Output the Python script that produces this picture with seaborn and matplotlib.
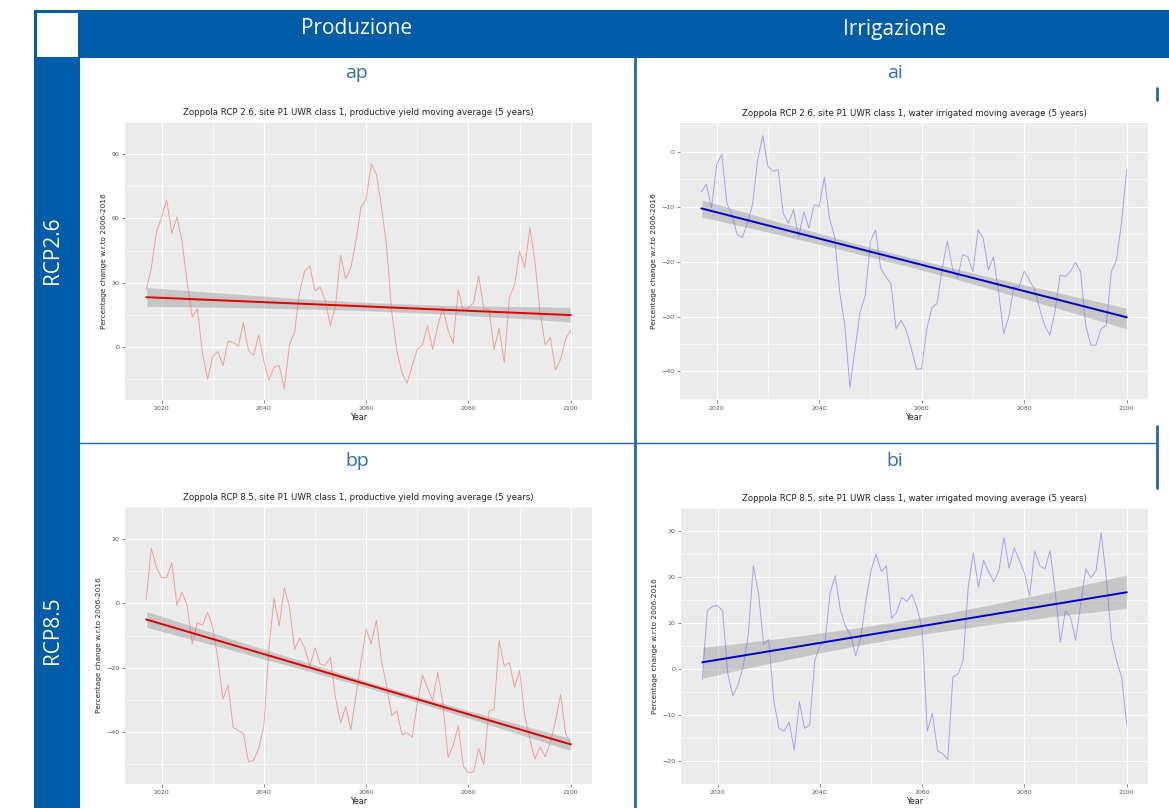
import numpy as np
import matplotlib
matplotlib.use("Agg")
import matplotlib.pyplot as plt
import seaborn as sns
from matplotlib.patches import Rectangle

# years of the 5-year moving average series
years = np.arange(2017, 2101)

# RCP 2.6 - productive yield (% change w.r.to 2006-2016)
ap_vals = [26.7, 37, 53.7, 60.6, 68.6, 53, 60.6, 49.5, 30, 14,
           18, -3, -15, -4.4, -2, -8.6, 2.8, 2.2, 0.4, 11.5,
           -1.7, -3.7, 5.7, -6.5, -15.5, -9.3, -8.6, -19.4, 1.1, 7,
           26, 35.7, 37.8, 26.3, 28, 21.9, 10, 19, 42.9, 31.8,
           37, 49.5, 65.4, 68.9, 85.5, 80.6, 65.4, 46.7, 16.3, -1.7,
           -12, -16.9, -8.6, -1, 1.1, 10, -1, 10, 18.4, 8,
           1.8, 26.7, 17.4, 18.4, 20.7, 33.2, 17.7, 17.7, -1, 8.7,
           -7.2, 23.2, 28.8, 44.7, 37, 55.7, 39.8, 16.3, 1.1, 4.6,
           -10.6, -5.8, 3.9, 8]

# RCP 2.6 - water irrigated
ai_vals = [-7.2, -5.9, -10.2, -2.3, -0.4, -9.3, -11.5, -15, -15.6, -13,
           -9.6, -1.4, 3, -2.6, -3.5, -3.2, -11.2, -13, -10.5, -15.4,
           -10.9, -13.9, -9.6, -9.9, -4.6, -12, -15.4, -25.5, -31.6, -42.9,
           -35.9, -29.1, -26.1, -16.3, -14.2, -21.2, -22.7, -24, -32.2, -30.7,
           -32.5, -35.9, -39.6, -39.5, -32.2, -28.4, -27.6, -21.2, -16.2, -21.2,
           -23, -18.7, -19.1, -21.8, -14.2, -15.7, -21.5, -19.1, -25.5, -33.1,
           -30, -24.6, -24.6, -21.7, -23.4, -24.9, -28.5, -31.6, -33.4, -29.1,
           -22.4, -22.7, -21.8, -20.1, -21.8, -31.6, -35.2, -35.2, -32.2, -31.6,
           -21.8, -19.7, -12.7, -3.2]

# RCP 8.5 - productive yield
bp_vals = [1.2, 17.2, 11.2, 7.9, 8.1, 12.6, -0.5, 3.4, -0.5, -12.6,
           -6, -6.8, -2.8, -7.4, -17.2, -29.8, -25.4, -38.6, -39.5, -40.5,
           -49.3, -48.8, -45.1, -38.1, -13.5, 1.6, -7, 4.9, -0.9, -14.4,
           -10.7, -14, -19.5, -13.8, -18.9, -19.3, -16.7, -29.3, -37.2, -32.1,
           -39.3, -28.8, -18.1, -7.9, -12.6, -5.3, -18.1, -25.6, -34.9, -33.5,
           -40.9, -40.3, -41.6, -31.2, -22.3, -26.3, -30.2, -21.4, -31.2, -47.9,
           -44.2, -38.1, -50.7, -52.7, -52.4, -45.1, -50.2, -33.5, -33, -11.6,
           -19.5, -18.4, -26, -20.9, -34.9, -42.3, -48.4, -44.7, -47.7, -43.3,
           -36.7, -28.4, -40.5, -43.7]

# RCP 8.5 - water irrigated
bi_vals = [-2.4, 12.7, 13.6, 13.8, 12.6, -1.1, -5.8, -3.4, 0.5, 7.4,
           22.4, 16.5, 5.4, 6.4, -7, -12.9, -13.5, -11.6, -17.6, -7.1,
           -12.9, -12.2, 1.8, 5.1, 5.8, 16.5, 20.3, 12.9, 9.3, 7.4,
           2.9, 6.7, 14.9, 21.4, 25, 21.2, 22.4, 11, 12.3, 15.6,
           14.7, 16.2, 13.3, 8.7, -13.5, -9.6, -17.8, -18.4, -19.7, -1.8,
           -1.1, 1.8, 17.8, 25.2, 17.8, 23.6, 21.1, 19, 21.4, 28.6,
           21.9, 26.3, 23.7, 20.8, 15.9, 25.7, 22.4, 21.8, 25.7, 16.9,
           5.8, 12.6, 11.3, 6.2, 14.2, 21.8, 19.8, 21.4, 29.6, 19.8,
           6.7, 1.8, -1.8, -12.2]

col_headers = ["Produzione", "Irrigazione"]
row_headers = ["RCP2.6", "RCP8.5"]
panel_tags = ["ap", "ai", "bp", "bi"]
titles = [
    "Zoppola RCP 2.6, site P1 UWR class 1, productive yield moving average (5 years)",
    "Zoppola RCP 2.6, site P1 UWR class 1, water irrigated moving average (5 years)",
    "Zoppola RCP 8.5, site P1 UWR class 1, productive yield moving average (5 years)",
    "Zoppola RCP 8.5, site P1 UWR class 1, water irrigated moving average (5 years)",
]
y_major = [[0, 30, 60, 90], [-40, -30, -20, -10, 0],
           [-40, -20, 0, 20], [-20, -10, 0, 10, 20, 30]]
# band level so the grey ribbon has about the width seen in the picture
ci_levels = [60, 68, 55, 85]

sns.set_style("darkgrid", {"axes.facecolor": "#EBEBEB", "grid.color": "white"})
plt.rcParams['font.family'] = ['DejaVu Sans']

W, H = 1169, 808
fig = plt.figure(figsize=(W / 100, H / 100), dpi=100, facecolor="white")

BLUE = "#005CA7"
LINE_BLUE = "#2A64A6"
head_font = ['Liberation Sans Narrow', 'Open Sans', 'DejaVu Sans']

# table frame drawn in pixel coordinates
bg = fig.add_axes([0, 0, 1, 1])
bg.set_xlim(0, W)
bg.set_ylim(H, 0)
bg.axis("off")
bg.add_patch(Rectangle((34, 10), W - 34, 48, color=BLUE, lw=0))
bg.add_patch(Rectangle((34, 10), 46, H - 10, color=BLUE, lw=0))
bg.add_patch(Rectangle((37, 13), 41, 44, color="white", lw=0))
bg.plot([635, 635], [58, H], color=LINE_BLUE, lw=2)
bg.plot([80, 1157], [443, 443], color=LINE_BLUE, lw=1)
bg.plot([1157, 1157], [426, 488], color=LINE_BLUE, lw=2)
bg.plot([1157, 1157], [88, 100], color=LINE_BLUE, lw=2)
for cx, txt in zip([357, 895], col_headers):
    bg.text(cx, 29, txt, color="white", fontsize=15, ha="center", va="center",
            family=head_font)
for cy, txt in zip([250, 630], row_headers):
    bg.text(52, cy, txt, color="white", fontsize=15, ha="center", va="center",
            rotation=90, family=head_font)
for (cx, cy), tag in zip([(357, 73), (895, 73), (357, 461), (895, 461)], panel_tags):
    bg.text(cx, cy, tag, color="#2E6DB0", fontsize=14, ha="center", va="center",
            family=head_font)


def px_rect(x0, y0, x1, y1):
    return [x0 / W, 1 - y1 / H, (x1 - x0) / W, (y1 - y0) / H]


rects = [(125, 122, 592, 400), (680, 123, 1148, 400),
         (125, 507, 592, 784), (681, 508, 1148, 784)]
series = [ap_vals, ai_vals, bp_vals, bi_vals]
colors = [("#F26B6B", "#E00000"), ("#7373F0", "#0000C8"),
          ("#F26B6B", "#E00000"), ("#7373F0", "#0000C8")]

for rect, vals, (c_data, c_fit), title, yt, ci in zip(rects, series, colors, titles, y_major, ci_levels):
    ax = fig.add_axes(px_rect(*rect))
    vals = np.array(vals, dtype=float)
    sns.lineplot(x=years, y=vals, color=c_data, lw=0.7, alpha=0.6, ax=ax)
    # grey confidence band then the coloured fit line on top
    sns.regplot(x=years, y=vals, scatter=False, ci=ci, seed=1, color="#8C8C8C",
                line_kws={"lw": 0}, ax=ax)
    band = ax.collections[-1]
    band.set_facecolor("#9A9A9A")
    band.set_alpha(0.45)
    sns.regplot(x=years, y=vals, scatter=False, ci=None, color=c_fit,
                line_kws={"lw": 1.4}, ax=ax)

    x0, x1 = years.min(), years.max()
    dx = (x1 - x0) * 0.05
    ax.set_xlim(x0 - dx, x1 + dx)
    lo, hi = vals.min(), vals.max()
    dy = (hi - lo) * 0.05
    ax.set_ylim(lo - dy, hi + dy)

    ax.set_xticks([2020, 2040, 2060, 2080, 2100])
    ax.set_xticks([2030, 2050, 2070, 2090], minor=True)
    step = yt[1] - yt[0]
    ax.set_yticks(yt)
    ax.set_yticks([v + step / 2 for v in [yt[0] - step] + yt], minor=True)
    ax.grid(which="major", color="white", lw=0.8)
    ax.grid(which="minor", color="white", lw=0.4)
    ax.tick_params(which="major", bottom=True, left=True, length=2, width=0.5,
                   color="#555555", labelsize=4.5, labelcolor="#555555", pad=2)
    ax.tick_params(which="minor", bottom=False, left=False)
    for s in ax.spines.values():
        s.set_visible(False)
    ax.set_title(title, fontsize=6.2, color="#222222", pad=5)
    ax.set_xlabel("Year", fontsize=5.8, color="#222222", labelpad=2)
    ax.set_ylabel("Percentage change w.r.to 2006-2016", fontsize=5.3,
                  color="#222222", labelpad=3)

fig.savefig("out.png", dpi=100, facecolor="white")
